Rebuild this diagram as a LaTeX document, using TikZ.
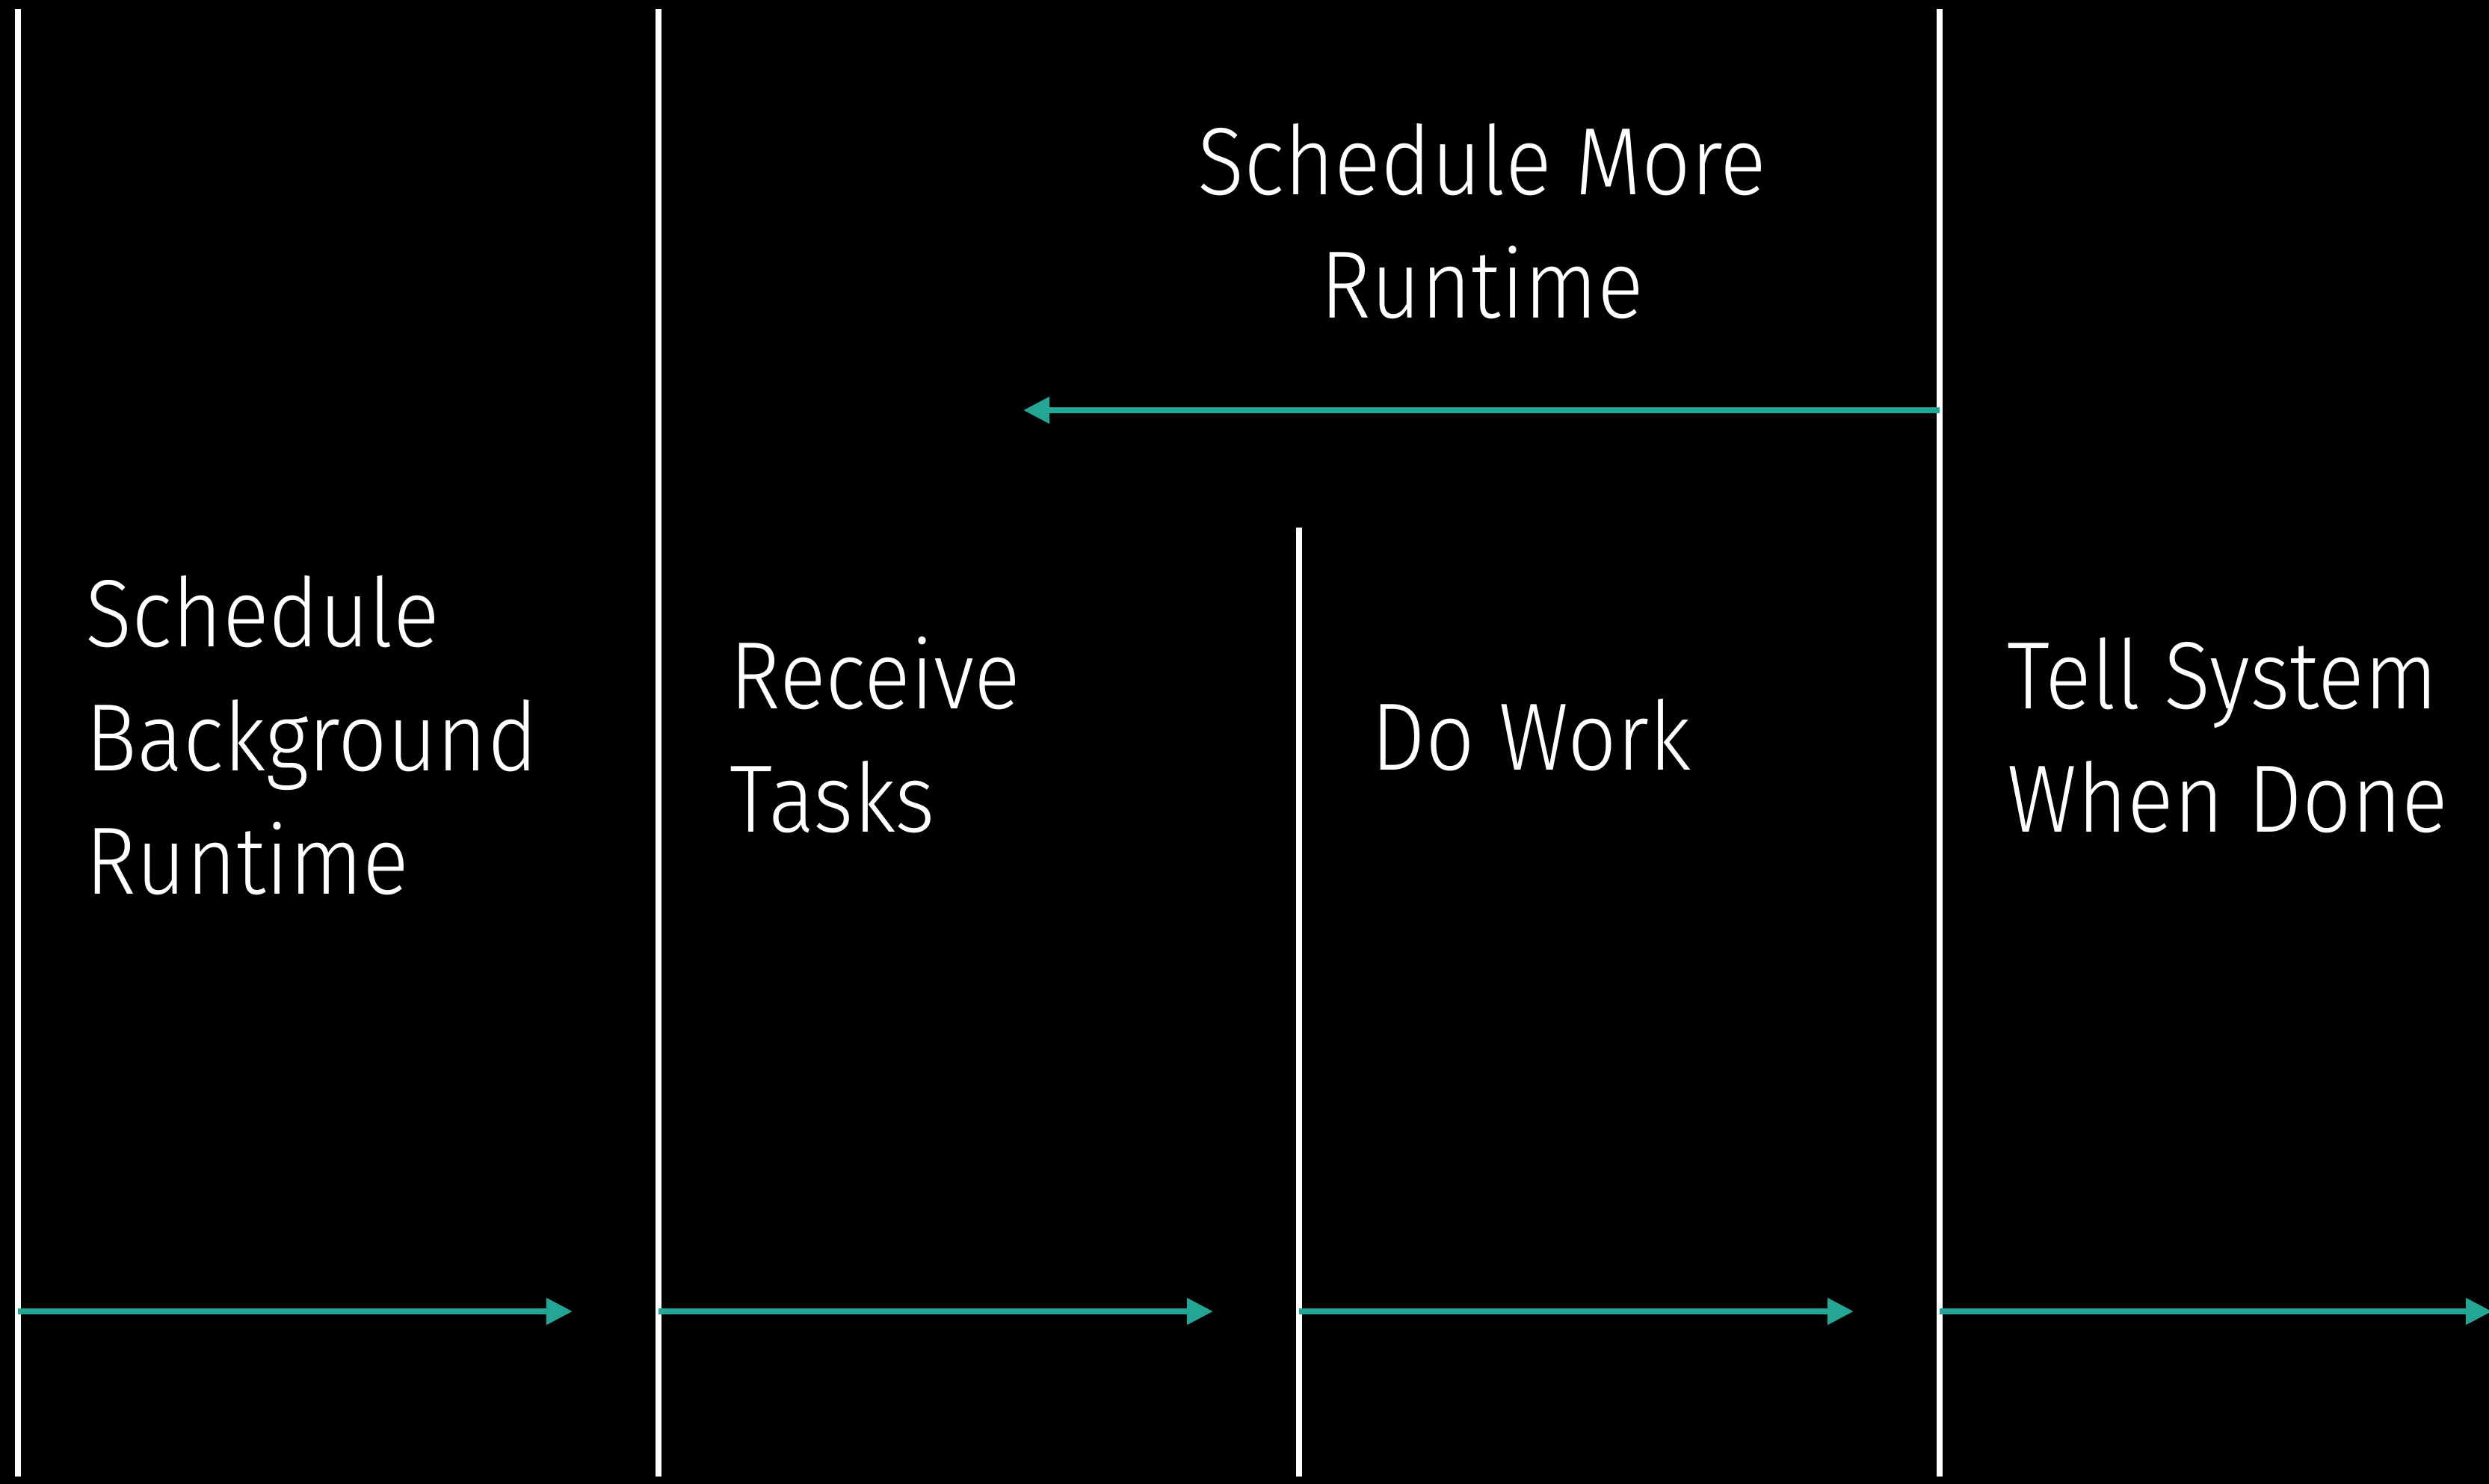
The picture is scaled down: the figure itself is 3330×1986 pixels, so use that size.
\documentclass[tikz,border=0pt]{standalone}
\usepackage{fontspec}
\setmainfont{Fira Sans}[UprightFont=* Light, FakeStretch=0.9]
\usetikzlibrary{arrows.meta, positioning}
\definecolor{flowteal}{RGB}{36,166,151}

\begin{document}
\begin{tikzpicture}[
    x=0.01cm, y=-0.01cm,
    lifeline/.style={draw=white, line width=0.08cm},
    flow/.style={draw=flowteal, line width=0.08cm, -{Triangle[length=0.35cm, width=0.34cm]}},
    phase/.style={text=white, inner sep=0pt, align=left, anchor=base west, font=\fontsize{36.4pt}{47.2pt}\selectfont}
]
    % Background
    \fill[black] (0,0) rectangle (3330,1986);
    \useasboundingbox (0,0) rectangle (3330,1986);

    % Lifelines
    \coordinate (sched_top) at (24,12);
    \coordinate (sched_bot) at (24,1976);
    \coordinate (recv_top) at (881,12);
    \coordinate (recv_bot) at (881,1976);
    \coordinate (work_top) at (1738,706);
    \coordinate (work_bot) at (1738,1976);
    \coordinate (done_top) at (2595,12);
    \coordinate (done_bot) at (2595,1976);

    \draw[lifeline] (sched_top) -- (sched_bot);
    \draw[lifeline] (recv_top) -- (recv_bot);
    \draw[lifeline] (work_top) -- (work_bot);
    \draw[lifeline] (done_top) -- (done_bot);

    % Labels (base = last line)
    \node[phase] (sched) at (114,1197) {Schedule\\Background\\Runtime};
    \node[phase] (recv) at (976,1114) {Receive\\Tasks};
    \node[phase] (work) at (1834,1031) {Do Work};
    \node[phase] (done) at (2685,1114) {Tell System\\When Done};
    \node[phase, align=center, anchor=base] (more) at (1983,426) {Schedule More\\Runtime};

    % Flow arrows
    \coordinate (sched_out) at (24,1755);
    \coordinate (sched_end) at (766,1755);
    \coordinate (recv_out) at (881,1755);
    \coordinate (recv_end) at (1623,1755);
    \coordinate (work_out) at (1738,1755);
    \coordinate (work_end) at (2480,1755);
    \coordinate (done_out) at (2595,1755);
    \coordinate (done_end) at (3334,1755);
    \coordinate (more_out) at (2595,549);
    \coordinate (more_end) at (1369,549);

    \draw[flow] (sched_out) -- (sched_end);
    \draw[flow] (recv_out) -- (recv_end);
    \draw[flow] (work_out) -- (work_end);
    \draw[flow] (done_out) -- (done_end);
    \draw[flow] (more_out) -- (more_end);

\end{tikzpicture}
\end{document}
